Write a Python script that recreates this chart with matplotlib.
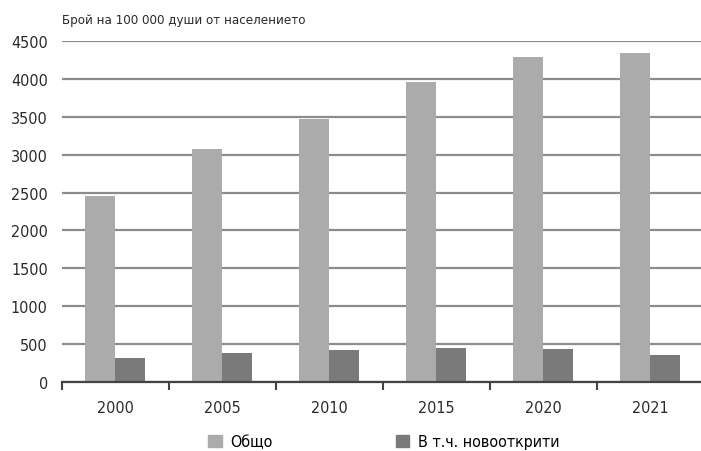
import numpy as np
import matplotlib.pyplot as plt
from matplotlib.patches import Patch

years = ["2000", "2005", "2010", "2015", "2020", "2021"]
total = [2450, 3070, 3470, 3960, 4290, 4340]
new_cases = [310, 380, 425, 445, 430, 360]
yticks = [0, 500, 1000, 1500, 2000, 2500, 3000, 3500, 4000, 4500]

plt.rcParams['font.family'] = ['DejaVu Sans']
plt.rcParams['font.stretch'] = 'condensed'

light = "#ababab"
dark = "#7a7a7a"
txt = "#2a2a2a"

fig = plt.figure(figsize=(7.01, 4.52), dpi=100)
ax = fig.add_axes([0.088, 0.153, 0.916, 0.754])

x = np.arange(len(years))
w = 0.28
ax.bar(x - w / 2, total, width=w, color=light, zorder=3)
ax.bar(x + w / 2, new_cases, width=w, color=dark, zorder=3)

ax.set_xlim(-0.5, len(years) - 0.5)
ax.set_ylim(0, 4500)
ax.set_yticks(yticks)
ax.set_yticklabels([str(v) for v in yticks], fontsize=11.5, color=txt)
ax.yaxis.grid(True, color="#8c8c8c", linewidth=1.6, zorder=0)
ax.tick_params(axis="y", length=0, pad=10)

# year labels centred, tick marks on category boundaries
ax.set_xticks(x)
ax.set_xticklabels(years, fontsize=11.5, color=txt)
ax.tick_params(axis="x", which="major", length=0, pad=13)
ax.set_xticks(np.arange(-0.5, len(years)), minor=True)
ax.tick_params(axis="x", which="minor", length=6, width=1.5, color="#444444")

for s in ["top", "right", "left"]:
    ax.spines[s].set_visible(False)
ax.spines["bottom"].set_color("#444444")
ax.spines["bottom"].set_linewidth(1.6)
ax.spines["bottom"].set_zorder(4)

fig.text(0.088, 0.955, "Брой на 100 000 души от населението",
         fontsize=9.5, color=txt, ha="left", va="center")

handles = [Patch(color=light, label="Общо"),
           Patch(color=dark, label="В т.ч. новооткрити")]
fig.legend(handles=handles, loc="center left", bbox_to_anchor=(0.297, 0.02),
           ncol=2, frameon=False, fontsize=11.5, handlelength=0.85,
           handleheight=0.85, columnspacing=7.7, handletextpad=0.55,
           borderpad=0, borderaxespad=0)

fig.savefig("out.png", dpi=100)
